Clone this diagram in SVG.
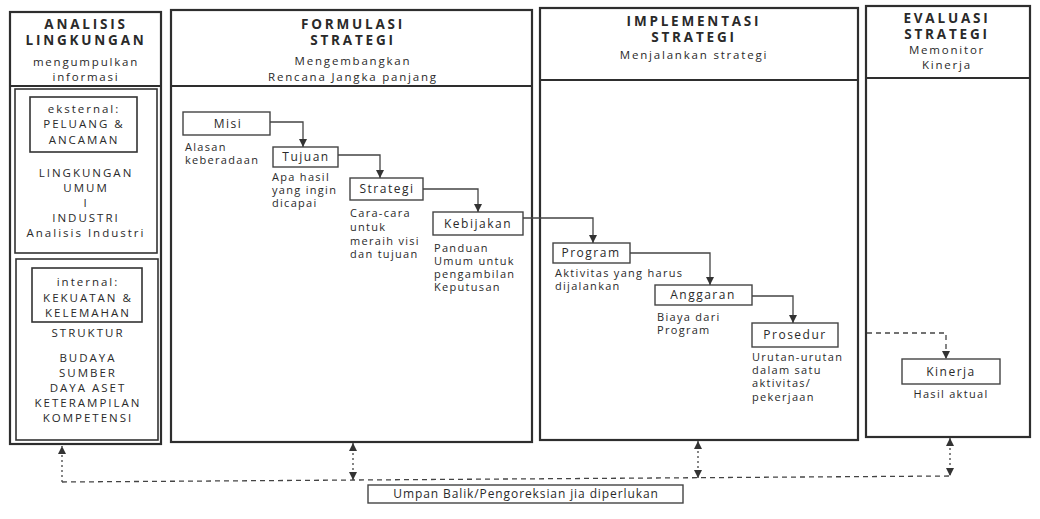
<svg xmlns="http://www.w3.org/2000/svg" width="1040" height="519" viewBox="0 0 1040 519">
<defs>
<marker id="ah" viewBox="0 0 10 10" refX="10" refY="5" markerWidth="8" markerHeight="8" markerUnits="userSpaceOnUse" orient="auto-start-reverse"><path d="M0,0 L10,5 L0,10 z" fill="#333"/></marker>
<style>
.col{fill:#fff;stroke:#2e2e2e;stroke-width:2.2}
.in{fill:none;stroke:#333;stroke-width:1.6}
.box{fill:#fff;stroke:#444;stroke-width:1.4}
text{font-family:"Open Sans","Liberation Sans",sans-serif;fill:#2a2a2a}
.h{font-size:13.5px;font-weight:bold;letter-spacing:2.8px;text-anchor:middle}
.s{font-size:11.5px;letter-spacing:1.8px;text-anchor:middle}
.c{font-size:11.5px;letter-spacing:2px;text-anchor:middle}
.d{font-size:11px;letter-spacing:1.3px}
.b{font-size:12px;letter-spacing:1.5px;text-anchor:middle}
.cn{fill:none;stroke:#444;stroke-width:1.3}
.ds{stroke-dasharray:5 4}
.dt{stroke-dasharray:2 3}
</style>
</defs>
<rect width="1040" height="519" fill="#fff"/>

<g id="col-analisis">
<rect class="col" x="10" y="12" width="151" height="432"/>
<line class="col" x1="10" y1="86" x2="161" y2="86"/>
<rect class="in" x="15" y="89" width="142" height="164"/>
<rect class="in" x="16" y="259" width="142" height="181"/>
<text class="h" x="86" y="29">ANALISIS</text>
<text class="h" x="86" y="45">LINGKUNGAN</text>
<text class="s" x="86" y="66">mengumpulkan</text>
<text class="s" x="86" y="81">informasi</text>
<text class="c" x="86" y="177">LINGKUNGAN</text>
<text class="c" x="86" y="192">UMUM</text>
<text class="c" x="86" y="207">I</text>
<text class="c" x="86" y="222">INDUSTRI</text>
<text class="c" x="86" y="237">Analisis Industri</text>
<text class="c" x="88" y="337">STRUKTUR</text>
<text class="c" x="88" y="362">BUDAYA</text>
<text class="c" x="88" y="377">SUMBER</text>
<text class="c" x="88" y="392">DAYA ASET</text>
<text class="c" x="88" y="407">KETERAMPILAN</text>
<text class="c" x="88" y="422">KOMPETENSI</text>
</g>
<g id="box-eksternal">
<rect class="in" x="30" y="97" width="107" height="55"/>
<text class="c" x="84" y="113">eksternal:</text>
<text class="c" x="84" y="128">PELUANG &amp;</text>
<text class="c" x="84" y="144">ANCAMAN</text>
</g>
<g id="box-internal">
<rect class="in" x="32" y="268" width="110" height="54"/>
<text class="c" x="88" y="286">internal:</text>
<text class="c" x="88" y="302">KEKUATAN &amp;</text>
<text class="c" x="88" y="317">KELEMAHAN</text>
</g>

<g id="col-formulasi">
<rect class="col" x="171" y="10" width="361" height="432"/>
<line class="col" x1="171" y1="86" x2="532" y2="86"/>
<text class="h" x="353" y="29">FORMULASI</text>
<text class="h" x="353" y="45">STRATEGI</text>
<text class="s" x="353" y="65">Mengembangkan</text>
<text class="s" x="353" y="81">Rencana Jangka panjang</text>
</g>
<g id="col-implementasi">
<rect class="col" x="540" y="8" width="318" height="432"/>
<line class="col" x1="540" y1="80" x2="858" y2="80"/>
<text class="h" x="694" y="26">IMPLEMENTASI</text>
<text class="h" x="694" y="42">STRATEGI</text>
<text class="s" x="694" y="59">Menjalankan strategi</text>
</g>
<g id="col-evaluasi">
<rect class="col" x="866" y="6" width="164" height="431"/>
<line class="col" x1="866" y1="78" x2="1030" y2="78"/>
<text class="h" x="947" y="23">EVALUASI</text>
<text class="h" x="947" y="39">STRATEGI</text>
<text class="s" x="947" y="54">Memonitor</text>
<text class="s" x="947" y="69">Kinerja</text>
</g>

<g id="node-misi">
<rect class="box" x="183" y="112" width="87" height="23"/>
<text class="b" x="228" y="128">Misi</text>
<text class="d" x="185" y="151">Alasan</text>
<text class="d" x="185" y="164">keberadaan</text>
</g>
<g id="node-tujuan">
<rect class="box" x="273" y="147" width="65" height="20"/>
<text class="b" x="306" y="161">Tujuan</text>
<text class="d" x="272" y="181">Apa hasil</text>
<text class="d" x="272" y="194">yang ingin</text>
<text class="d" x="272" y="207">dicapai</text>
</g>
<g id="node-strategi">
<rect class="box" x="350" y="178" width="73" height="22"/>
<text class="b" x="387" y="193">Strategi</text>
<text class="d" x="350" y="217">Cara-cara</text>
<text class="d" x="350" y="231">untuk</text>
<text class="d" x="350" y="245">meraih visi</text>
<text class="d" x="350" y="258">dan tujuan</text>
</g>
<g id="node-kebijakan">
<rect class="box" x="433" y="212" width="90" height="23"/>
<text class="b" x="478" y="228">Kebijakan</text>
<text class="d" x="434" y="252">Panduan</text>
<text class="d" x="434" y="265">Umum untuk</text>
<text class="d" x="434" y="278">pengambilan</text>
<text class="d" x="434" y="291">Keputusan</text>
</g>
<g id="node-program">
<rect class="box" x="553" y="243" width="77" height="20"/>
<text class="b" x="591" y="257">Program</text>
<text class="d" x="555" y="277">Aktivitas yang harus</text>
<text class="d" x="555" y="290">dijalankan</text>
</g>
<g id="node-anggaran">
<rect class="box" x="655" y="285" width="97" height="20"/>
<text class="b" x="703" y="299">Anggaran</text>
<text class="d" x="657" y="321">Biaya dari</text>
<text class="d" x="657" y="334">Program</text>
</g>
<g id="node-prosedur">
<rect class="box" x="752" y="323" width="86" height="24"/>
<text class="b" x="795" y="339">Prosedur</text>
<text class="d" x="752" y="361">Urutan-urutan</text>
<text class="d" x="752" y="374">dalam satu</text>
<text class="d" x="752" y="387">aktivitas/</text>
<text class="d" x="752" y="401">pekerjaan</text>
</g>
<g id="node-kinerja">
<rect class="box" x="902" y="359" width="98" height="25"/>
<text class="b" x="951" y="376">Kinerja</text>
<text class="d" x="951" y="398" text-anchor="middle">Hasil aktual</text>
</g>
<g id="node-umpan-balik">
<rect class="box" x="368" y="485" width="315" height="18"/>
<text class="b" x="526" y="498" style="letter-spacing:0.9px">Umpan Balik/Pengoreksian jia diperlukan</text>
</g>

<g id="connectors">
<path class="cn" d="M270,122 H303 V147" marker-end="url(#ah)"/>
<path class="cn" d="M338,155 H380 V178" marker-end="url(#ah)"/>
<path class="cn" d="M423,189 H478 V212" marker-end="url(#ah)"/>
<path class="cn" d="M523,218 H593 V243" marker-end="url(#ah)"/>
<path class="cn" d="M630,253 H710 V285" marker-end="url(#ah)"/>
<path class="cn" d="M752,296 H793 V323" marker-end="url(#ah)"/>
<path class="cn ds" d="M867,333 H946 V359" marker-end="url(#ah)"/>
<path class="cn ds" d="M62,482 L950,476"/>
<path class="cn dt" d="M62,482 V446" marker-end="url(#ah)"/>
<path class="cn dt" d="M353,443 V480" marker-start="url(#ah)" marker-end="url(#ah)"/>
<path class="cn dt" d="M698,441 V478" marker-start="url(#ah)" marker-end="url(#ah)"/>
<path class="cn dt" d="M950,438 V476" marker-start="url(#ah)" marker-end="url(#ah)"/>
</g>
</svg>
